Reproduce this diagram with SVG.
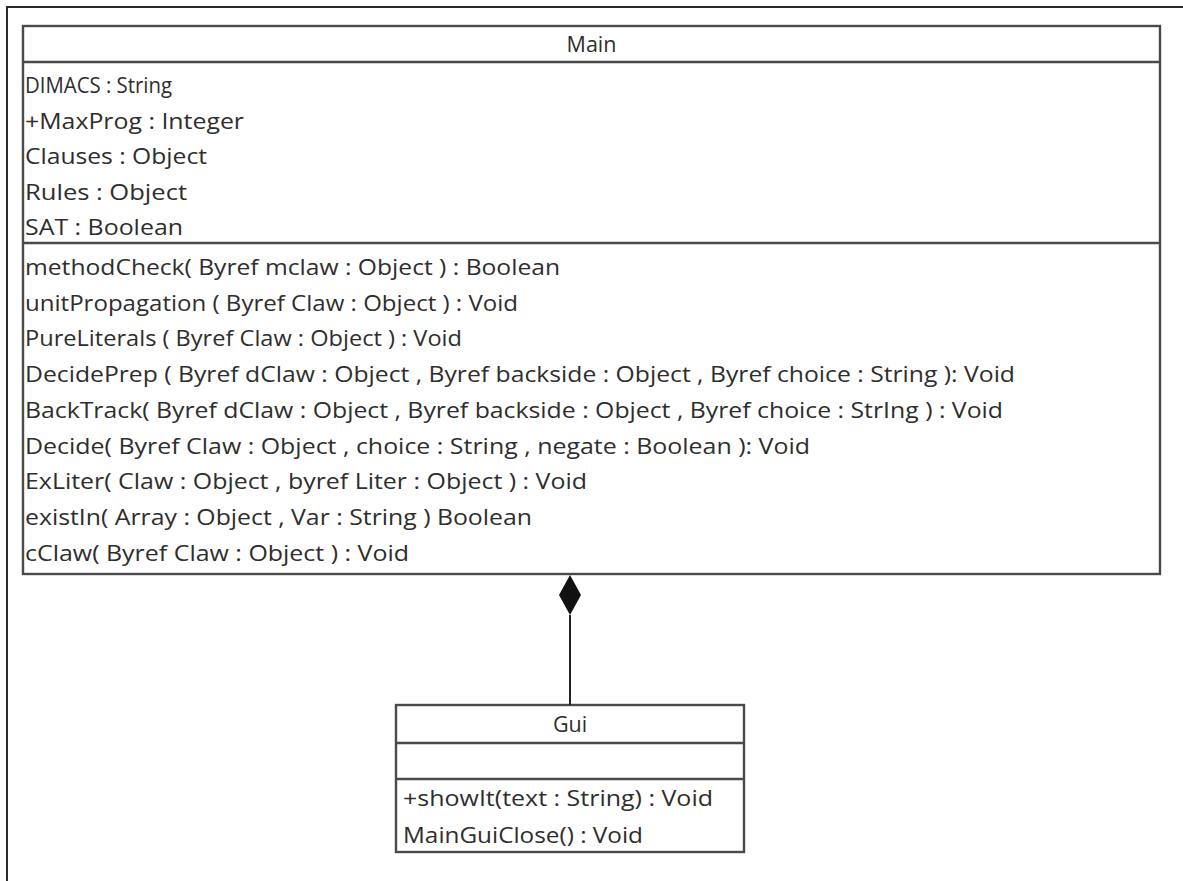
<svg xmlns="http://www.w3.org/2000/svg" width="1183" height="881" viewBox="0 0 1183 881">
  <style>
    .frame { fill: none; stroke: #2b2b2b; stroke-width: 2; }
    .box { fill: #ffffff; stroke: #4a4a4a; stroke-width: 2.4; }
    .sep { stroke: #4a4a4a; stroke-width: 2.4; }
    .t { font-family: "Open Sans", "Noto Sans", sans-serif; font-size: 21.5px; fill: #2e2e2e; }
    .title { text-anchor: middle; }
    .link { stroke: #222; stroke-width: 2; fill: none; }
  </style>
  <defs>
    <marker id="composite" viewBox="0 0 40 22" refX="0" refY="11" markerWidth="40" markerHeight="22" markerUnits="userSpaceOnUse" orient="auto">
      <path d="M0,11 L20,0 L40,11 L20,22 Z" fill="#111"/>
    </marker>
  </defs>

  <rect width="1183" height="881" fill="#ffffff"/>
  <!-- page border (top and left edges) -->
  <path class="frame" d="M7,881 L7,7 L1183,7"/>

  <!-- Main class -->
  <g id="main">
    <rect class="box" x="23" y="26" width="1137" height="548"/>
    <line class="sep" x1="23" y1="62" x2="1160" y2="62"/>
    <line class="sep" x1="23" y1="243" x2="1160" y2="243"/>
    <text class="t title" x="591.5" y="52">Main</text>
    <text class="t" x="25" y="93" textLength="147" lengthAdjust="spacingAndGlyphs">DIMACS : String</text>
    <text class="t" x="25" y="128.5" textLength="219" lengthAdjust="spacingAndGlyphs">+MaxProg : Integer</text>
    <text class="t" x="25" y="164" textLength="182" lengthAdjust="spacingAndGlyphs">Clauses : Object</text>
    <text class="t" x="25" y="199.5" textLength="162" lengthAdjust="spacingAndGlyphs">Rules : Object</text>
    <text class="t" x="25" y="235" textLength="158" lengthAdjust="spacingAndGlyphs">SAT : Boolean</text>
    <text class="t" x="25" y="275" textLength="535" lengthAdjust="spacingAndGlyphs">methodCheck( Byref mclaw : Object ) : Boolean</text>
    <text class="t" x="25" y="310.7" textLength="493" lengthAdjust="spacingAndGlyphs">unitPropagation ( Byref Claw : Object ) : Void</text>
    <text class="t" x="25" y="346.4" textLength="437" lengthAdjust="spacingAndGlyphs">PureLiterals ( Byref Claw : Object ) : Void</text>
    <text class="t" x="25" y="382.1" textLength="990" lengthAdjust="spacingAndGlyphs">DecidePrep ( Byref dClaw : Object , Byref backside : Object , Byref choice : String ): Void</text>
    <text class="t" x="25" y="417.8" textLength="978" lengthAdjust="spacingAndGlyphs">BackTrack( Byref dClaw : Object , Byref backside : Object , Byref choice : StrIng ) : Void</text>
    <text class="t" x="25" y="453.5" textLength="785" lengthAdjust="spacingAndGlyphs">Decide( Byref Claw : Object , choice : String , negate : Boolean ): Void</text>
    <text class="t" x="25" y="489.2" textLength="562" lengthAdjust="spacingAndGlyphs">ExLiter( Claw : Object , byref Liter : Object ) : Void</text>
    <text class="t" x="25" y="524.9" textLength="507" lengthAdjust="spacingAndGlyphs">existIn( Array : Object , Var : String ) Boolean</text>
    <text class="t" x="25" y="560.6" textLength="384" lengthAdjust="spacingAndGlyphs">cClaw( Byref Claw : Object ) : Void</text>
  </g>

  <!-- Gui class -->
  <g id="gui">
    <rect class="box" x="396" y="705" width="348" height="147"/>
    <line class="sep" x1="396" y1="743" x2="744" y2="743"/>
    <line class="sep" x1="396" y1="779" x2="744" y2="779"/>
    <text class="t title" x="570" y="732">Gui</text>
    <text class="t" x="403" y="806" textLength="310" lengthAdjust="spacingAndGlyphs">+showIt(text : String) : Void</text>
    <text class="t" x="403" y="843" textLength="240" lengthAdjust="spacingAndGlyphs">MainGuiClose() : Void</text>
  </g>

  <!-- composition: Gui is part of Main -->
  <g id="connectors">
    <line class="link" x1="570" y1="705" x2="570" y2="615" marker-end="url(#composite)"/>
  </g>
</svg>
